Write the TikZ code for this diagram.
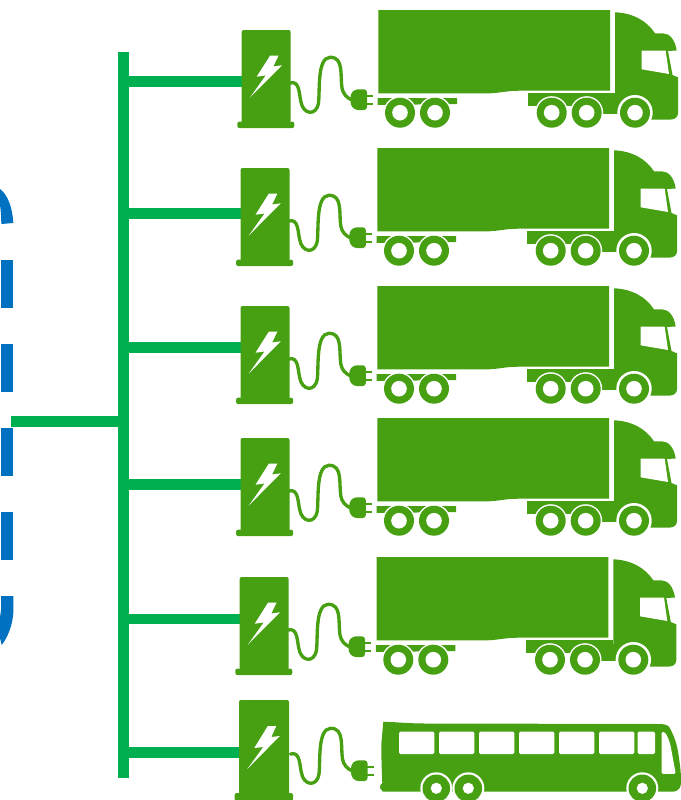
\documentclass[tikz,border=0pt]{standalone}
\definecolor{truckgreen}{HTML}{46A012}
\definecolor{busgreen}{HTML}{00B050}
\definecolor{ringblue}{HTML}{0070C0}
\tikzset{
  x=0.75pt,y=-0.75pt,
  shapefill/.style={fill=truckgreen,draw=none},
  holefill/.style={fill=white,draw=none},
  cableline/.style={draw=truckgreen,line width=2.5pt,line cap=round},
  feeder/.style={draw=busgreen,line width=8.1pt},
  dashpart/.style={fill=ringblue,draw=none}
}
% charging post, origin shifted to the first row's position
\newcommand\ChargerPost{%
  \fill[shapefill,rounded corners=1.5pt] (241.7,30) -- (290.7,30) -- (290.7,123) -- (241.7,123) -- cycle;
  \fill[shapefill,rounded corners=1.5pt] (237.3,121.7) -- (294.3,121.7) -- (294.3,128) -- (237.3,128) -- cycle;
  \fill[holefill] (270,55.7) -- (278.5,55.7) -- (273.3,66.5) -- (282,65.3) -- (250,97.5) -- (265.7,75.5) -- (256.7,76.7) -- cycle;
}
\newcommand\PlugCable{%
  \draw[cableline] (290,83) .. controls (300,80) and (299,95) .. (301,102)
    .. controls (303,114) and (316,117) .. (318.5,103)
    .. controls (320,90) and (317,58) .. (330,57.3)
    .. controls (344,57) and (340,75) .. (342,88)
    .. controls (343,94) and (347,98) .. (352,100);
  \fill[shapefill,rounded corners=2.2pt] (350.5,94) -- (355,89.3) -- (367,89.3) -- (367,110) -- (355,110) -- (350.5,105) -- cycle;
  \fill[shapefill] (366,94.8) rectangle (373,97.4);
  \fill[shapefill] (366,102.6) rectangle (373,105.2);
}
\newcommand\TruckWheel[3]{%
  \fill[holefill] (#1,112.7) circle[radius=#2*0.75pt];
  \fill[shapefill] (#1,112.7) circle[radius=#3*0.75pt];
  \fill[holefill] (#1,112.7) circle[radius=7.8*0.75pt];
}
\newcommand\TruckShape{%
  % container
  \fill[shapefill] (378.3,10) -- (610,10) -- (610,90.7) -- (520,90.7)
    .. controls (505,90.7) and (500,93.4) .. (485,93.4) -- (378.3,93.4) -- cycle;
  % left rail
  \fill[shapefill] (377.5,98) -- (457,98) -- (457,104) -- (377.5,105) -- cycle;
  % right rail and lower frame
  \fill[shapefill] (528,93.3) -- (615,93.3) -- (615,97) -- (528,97) -- cycle;
  \fill[shapefill] (528,97) -- (600,97) -- (600,106) -- (528,106) -- cycle;
  \fill[shapefill] (596,97) -- (625,97) -- (625,114) -- (596,114) -- cycle;
  % cab
  \fill[shapefill] (615,12.3) .. controls (633,13) and (647,21) .. (655,33.3)
    -- (663,33.3) .. controls (670,33.5) and (675,40) .. (676.7,50.5)
    -- (668,51) -- (672.5,75) -- (678,77.3) -- (678,113)
    .. controls (678,117) and (675,119.5) .. (671,119.5)
    -- (630,119.5) -- (615,100) -- cycle;
  \fill[holefill] (641.7,50.7) -- (665.7,50.7) -- (669,74) -- (641.7,69.3) -- cycle;
  % wheels
  \TruckWheel{400}{16.5}{15}
  \TruckWheel{435}{16.5}{15}
  \TruckWheel{551.7}{16.5}{15}
  \TruckWheel{586.7}{16.5}{15}
  \TruckWheel{635}{17.7}{15}
}
\newcommand\BusWheel[1]{%
  \fill[holefill] (#1,788.3) circle[radius=16*0.75pt];
  \fill[shapefill] (#1,788.3) circle[radius=13.8*0.75pt];
  \fill[holefill] (#1,788.3) circle[radius=5.6*0.75pt];
}
\newcommand\BusWindow[2]{%
  \fill[holefill,rounded corners=1pt] (#1,731.7) rectangle (#2,754);
}
\begin{document}
\begin{tikzpicture}
\useasboundingbox (0,0) rectangle (681,800);
% dashed blue ring segment
\fill[dashpart] (0,189) .. controls (8,195) and (12.5,208) .. (13.3,223) -- (1.3,224) .. controls (1.2,216) and (0.8,210) .. (0,205) -- cycle;
\fill[dashpart] (1,260) rectangle (13.3,307.7);
\fill[dashpart] (1,344) rectangle (13.3,391.7);
\fill[dashpart] (1,428.3) rectangle (13.3,475.7);
\fill[dashpart] (1,512.3) rectangle (13.3,559.7);
\fill[dashpart] (1,596) -- (13.3,596) -- (13.3,613) .. controls (12.5,625) and (8,637) .. (1.7,645) -- (0,638) -- (0,617) -- (1,610) -- cycle;
% feeder lines
\coordinate (busTop) at (123.6,52);
\coordinate (busBottom) at (123.6,778);
\coordinate (mainIn) at (11,421.3);
\coordinate (c1) at (243,81.3);
\coordinate (c2) at (242,213.8);
\coordinate (c3) at (242,347.8);
\coordinate (c4) at (242,484.7);
\coordinate (c5) at (241,619);
\coordinate (c6) at (240,752.8);
\draw[feeder] (busTop) -- (busBottom);
\draw[feeder] (mainIn) -- (mainIn -| busTop);
\foreach \c in {c1,c2,c3,c4,c5,c6}{
  \draw[feeder] (\c -| busTop) -- (\c);
}
% five charger and truck rows
\foreach \dx/\dy/\tx in {0/0/0,-1.2/138/-1,-1.2/276/-1,-1.2/408/-1,-2/547/-1.7}{
  \begin{scope}[shift={(\dx,\dy)}]
    \ChargerPost
    \PlugCable
  \end{scope}
  \begin{scope}[shift={(\tx,\dy)}]
    \TruckShape
  \end{scope}
}
% bus row
\begin{scope}[shift={(-2.7,670)}]
  \fill[shapefill,rounded corners=1.5pt] (241.7,30) -- (291.7,30) -- (291.7,125) -- (241.7,125) -- cycle;
  \fill[shapefill,rounded corners=1.5pt] (237.3,123) -- (295.7,123) -- (295.7,131) -- (237.3,131) -- cycle;
  \fill[holefill] (270.5,56) -- (279,56) -- (274,67) -- (282.5,66) -- (250,99) -- (266,77) -- (257,78) -- cycle;
\end{scope}
\begin{scope}[shift={(0.5,671)}]
  \PlugCable
\end{scope}
\fill[shapefill] (383.3,721.7) .. controls (395,722) and (405,723.3) .. (425,723.5)
  -- (660,724) .. controls (666,724) and (669,726) .. (670,728.3)
  .. controls (675,738) and (677,745) .. (678.3,753.3)
  .. controls (680,765) and (681,772) .. (681,780)
  .. controls (681,786) and (681,790) .. (673.3,791.7)
  -- (383,791.7) -- (380,788) -- (380.5,785) -- (382.3,783)
  .. controls (381.5,765) and (381,745) .. (381.7,740) -- cycle;
\BusWindow{399}{434.3}
\BusWindow{439}{474.3}
\BusWindow{479}{514.3}
\BusWindow{519}{554.3}
\BusWindow{559}{594.3}
\BusWindow{599}{634.3}
\BusWindow{637.7}{655}
\fill[holefill,rounded corners=1pt] (661.7,731.7) -- (665,732.5) .. controls (668,737) and (670,743) .. (671,748) -- (675.7,773.8) -- (661.7,774) -- cycle;
\BusWheel{436.3}
\BusWheel{468.3}
\BusWheel{642.3}
\end{tikzpicture}
\end{document}
